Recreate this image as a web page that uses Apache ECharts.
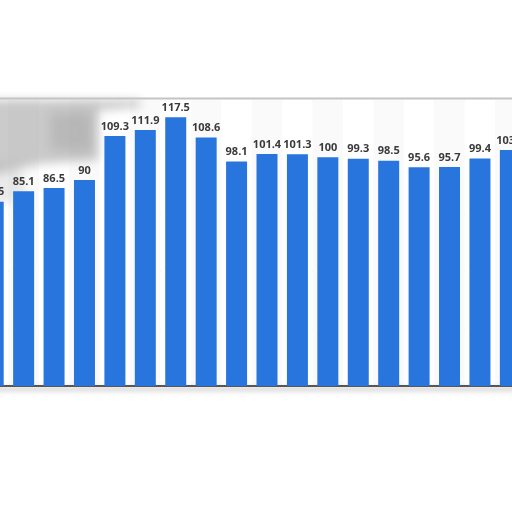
<!DOCTYPE html>
<html lang="en">
<head>
    <meta charset="UTF-8">
    <title>Index chart</title>
    <script src="https://cdn.jsdelivr.net/npm/echarts@6/dist/echarts.min.js"></script>
    <style>
        html, body { margin: 0; padding: 0; background: #fff; overflow: hidden; }
        /* the picture is a crop: the chart is wider than the window */
        #chart { width: 578px; height: 512px; margin-left: -22px; }
    </style>
</head>
<body>
<div id="chart"></div>
<script type="text/javascript">
    // categories are not visible in the crop, so plain index labels
    var categories = ['1', '2', '3', '4', '5', '6', '7', '8', '9', '10',
                      '11', '12', '13', '14', '15', '16', '17', '18', '19'];
    var values = [80.5, 85.1, 86.5, 90, 109.3, 111.9, 117.5, 108.6, 98.1, 101.4,
                  101.3, 100, 99.3, 98.5, 95.6, 95.7, 99.4, 103.1, null];
    var yTicks = [0, 25, 50, 75, 100, 125];

    var myChart = echarts.init(document.getElementById('chart'));
    var dx = 22; // chart x of the window's left edge

    // blurred blob: shape kept off screen, only its shadow shows
    function blob(points, color, blur) {
        return {
            type: 'polygon',
            z: 1,
            shape: { points: points.map(function (p) { return [p[0] + dx - 1000, p[1]]; }) },
            style: { fill: color, shadowColor: color, shadowBlur: blur, shadowOffsetX: 1000 }
        };
    }

    var option = {
        animation: false,
        backgroundColor: '#ffffff',
        grid: {
            left: 0,
            right: 0,
            top: 100,
            bottom: 126,
            containLabel: false
        },
        xAxis: {
            type: 'category',
            data: categories,
            axisLine: { show: true, lineStyle: { color: '#111', width: 1.5 } },
            axisTick: { show: false },
            axisLabel: { show: false },
            splitArea: { show: true, areaStyle: { color: ['#ffffff', '#fafafa'] } }
        },
        yAxis: {
            type: 'value',
            min: yTicks[0],
            max: yTicks[yTicks.length - 1],
            interval: 25,
            axisLine: { show: false },
            axisTick: { show: false },
            axisLabel: { show: false },
            splitLine: { lineStyle: { color: '#cfcfcf', type: 'dotted', width: 1 } }
        },
        graphic: [
            // grey smudge at the top left of the photo
            blob([[-10, 100], [140, 100], [140, 107], [98, 111], [98, 160], [40, 164], [-10, 175]],
                 'rgba(150,150,150,0.7)', 10),
            blob([[50, 112], [92, 112], [92, 152], [50, 150]], 'rgba(130,130,130,0.5)', 12),
            blob([[-10, 160], [20, 165], [25, 200], [-10, 205]], 'rgba(170,170,170,0.5)', 10),
            // top edge of the card
            {
                type: 'line',
                z: 5,
                shape: { x1: 0, y1: 98.5, x2: 578, y2: 98.5 },
                style: { stroke: '#c4c4c4', lineWidth: 2 }
            },
            // soft shadow under the axis
            {
                type: 'rect',
                z: 1,
                shape: { x: -1000, y: 387, width: 540, height: 4 },
                style: {
                    fill: 'rgba(160,160,160,0.7)',
                    shadowColor: 'rgba(160,160,160,0.7)',
                    shadowBlur: 5,
                    shadowOffsetX: 1000
                }
            }
        ],
        series: [{
            type: 'bar',
            data: values,
            barWidth: 21,
            itemStyle: { color: '#2876dd' },
            label: {
                show: true,
                position: 'top',
                distance: 4,
                color: '#3a3a3a',
                fontFamily: 'Open Sans, Liberation Sans, sans-serif',
                fontWeight: 'bold',
                fontSize: 11
            }
        }]
    };
    myChart.setOption(option);
</script>
</body>
</html>
